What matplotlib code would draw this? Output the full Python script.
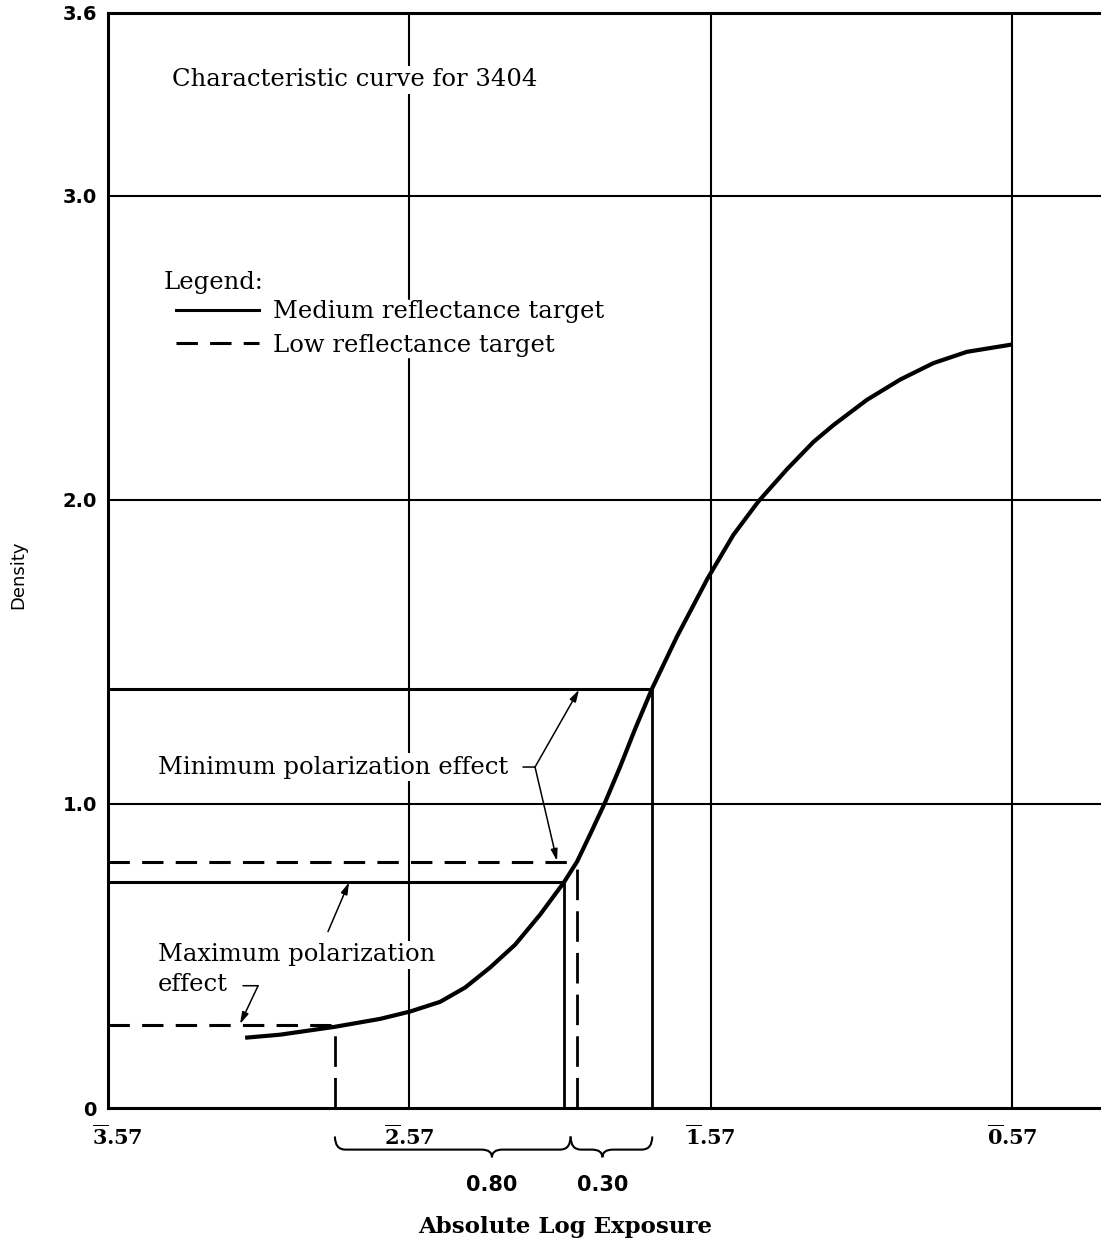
import matplotlib
matplotlib.use("Agg")
import matplotlib.pyplot as plt
from matplotlib.lines import Line2D
from matplotlib.path import Path
from matplotlib.patches import PathPatch
from matplotlib.transforms import ScaledTranslation

plt.rcParams["mathtext.fontset"] = "dejavuserif"

# ---- data (x = log exposure measured from the 3.57-bar line) ----
curve_x = [0.455, 0.571, 0.753, 0.903, 1.002, 1.102, 1.185, 1.268, 1.351, 1.434,
           1.513, 1.557, 1.600, 1.650, 1.699, 1.749, 1.805, 1.887, 1.989, 2.075,
           2.158, 2.253, 2.341, 2.407, 2.518, 2.629, 2.739, 2.850, 2.999]
curve_y = [0.231, 0.241, 0.267, 0.293, 0.317, 0.349, 0.396, 0.462, 0.537, 0.636,
           0.742, 0.811, 0.900, 1.006, 1.121, 1.246, 1.378, 1.548, 1.740, 1.884,
           1.994, 2.100, 2.190, 2.245, 2.328, 2.395, 2.449, 2.486, 2.510]

medium_x = [1.513, 1.806]   # max / min polarization effect, medium reflectance
medium_y = [0.742, 1.378]
low_x = [0.753, 1.557]      # max / min polarization effect, low reflectance
low_y = [0.274, 0.810]

x_ticks = [0, 1, 2, 3]
x_tick_labels = [r"$\overline{\mathbf{3}}$.57", r"$\overline{\mathbf{2}}$.57",
                 r"$\overline{\mathbf{1}}$.57", r"$\overline{\mathbf{0}}$.57"]
y_ticks = [0, 1.0, 2.0, 3.0, 3.6]
y_tick_labels = ["0", "1.0", "2.0", "3.0", "3.6"]
brace_labels = ["0.80", "0.30"]
legend_labels = ["Medium reflectance target", "Low reflectance target"]

SERIF = "DejaVu Serif"
SANS = "DejaVu Sans"
DASH = (0, (7, 4))
FS = 17.5

fig = plt.figure(figsize=(11.01, 12.44), dpi=100)
ax = fig.add_axes([108 / 1101, 136 / 1244, 1 - 108 / 1101, 1095 / 1244])
ax.set_xlim(0, 3.295)
ax.set_ylim(0, 3.6)

# grid
for gx in x_ticks[1:]:
    ax.axvline(gx, color="black", lw=1.5, zorder=1)
for gy in y_ticks[1:-1]:
    ax.axhline(gy, color="black", lw=1.5, zorder=1)

for side in ["left", "top", "bottom"]:
    ax.spines[side].set_linewidth(2.2)
ax.spines["right"].set_visible(False)

ax.set_xticks(x_ticks)
ax.set_xticklabels(x_tick_labels, family=SERIF, fontweight="bold", fontsize=15)
ax.set_yticks(y_ticks)
ax.set_yticklabels(y_tick_labels, family=SANS, fontsize=14, fontweight="bold")
ax.tick_params(axis="x", length=0, pad=12)
ax.tick_params(axis="y", length=0, pad=8)
first = ax.get_xticklabels()[0]
first.set_transform(first.get_transform() +
                    ScaledTranslation(9 / 100, 0, fig.dpi_scale_trans))

# characteristic curve
ax.plot(curve_x, curve_y, color="black", lw=3.0, zorder=5,
        solid_capstyle="butt", solid_joinstyle="round")

# polarization lines
ax.hlines(medium_y, 0, medium_x, colors="black", lw=2.2, zorder=4)
ax.vlines(medium_x, 0, medium_y, colors="black", lw=2.0, zorder=4)
ax.hlines(low_y, 0, low_x, colors="black", lw=2.2, linestyles=[DASH], zorder=4)
ax.vlines(low_x, 0, low_y, colors="black", lw=2.0, linestyles=[(0, (11, 4))], zorder=4)

bbox_w = dict(facecolor="white", edgecolor="none", pad=2)

ax.text(0.212, 3.38, "Characteristic curve for 3404", family=SERIF, fontsize=FS,
        ha="left", va="center", bbox=bbox_w, zorder=3)

ax.text(0.183, 2.715, "Legend:", family=SERIF, fontsize=FS,
        ha="left", va="center", bbox=bbox_w, zorder=3)
handles = [Line2D([], [], color="black", lw=2.2),
           Line2D([], [], color="black", lw=2.2, linestyle=DASH)]
leg = ax.legend(handles, legend_labels, loc="upper left",
                bbox_to_anchor=(0.0685, 0.7375),
                frameon=True, fancybox=False, edgecolor="white", facecolor="white",
                framealpha=1, prop={"family": SERIF, "size": FS},
                handlelength=3.4, handletextpad=0.6, labelspacing=0.42,
                borderpad=0.0, borderaxespad=0.0)
leg.set_zorder(3)

ax.text(0.166, 1.121, "Minimum polarization effect", family=SERIF, fontsize=FS,
        ha="left", va="center", bbox=bbox_w, zorder=3)
ax.text(0.166, 0.504, "Maximum polarization", family=SERIF, fontsize=FS,
        ha="left", va="center", bbox=bbox_w, zorder=3)
ax.text(0.166, 0.405, "effect", family=SERIF, fontsize=FS,
        ha="left", va="center", zorder=3)

arrow = dict(arrowstyle="-|>,head_length=0.7,head_width=0.2", lw=1.1,
             color="black", shrinkA=0, shrinkB=0)
plain = dict(arrowstyle="-", lw=1.1, color="black", shrinkA=0, shrinkB=0)

# Minimum polarization effect pointers
ax.annotate("", xy=(1.417, 1.121), xytext=(1.377, 1.121), arrowprops=plain)
ax.annotate("", xy=(1.563, 1.375), xytext=(1.417, 1.121), arrowprops=arrow, zorder=6)
ax.annotate("", xy=(1.490, 0.812), xytext=(1.417, 1.121), arrowprops=arrow, zorder=6)
# Maximum polarization effect pointers
ax.annotate("", xy=(0.800, 0.742), xytext=(0.730, 0.580), arrowprops=arrow, zorder=6)
ax.annotate("", xy=(0.498, 0.402), xytext=(0.448, 0.402), arrowprops=plain)
ax.annotate("", xy=(0.438, 0.276), xytext=(0.498, 0.402), arrowprops=arrow, zorder=6)

# braces under the axis
trans = ax.get_xaxis_transform()
mid = (medium_x[0] + low_x[1]) / 2
spans = [(low_x[0], mid), (mid, medium_x[1])]
tip_shift = [0.13, -0.03]
y_top, y_base, y_tip = -0.026, -0.038, -0.045
r = 0.035
for (x0, x1), lab, sh in zip(spans, brace_labels, tip_shift):
    xm = (x0 + x1) / 2 + sh
    verts = [(x0, y_top), (x0, y_base), (x0 + r, y_base),
             (xm - r, y_base), (xm, y_base), (xm, y_tip),
             (xm, y_base), (xm + r, y_base),
             (x1 - r, y_base), (x1, y_base), (x1, y_top)]
    codes = [Path.MOVETO, Path.CURVE3, Path.CURVE3,
             Path.LINETO, Path.CURVE3, Path.CURVE3,
             Path.CURVE3, Path.CURVE3,
             Path.LINETO, Path.CURVE3, Path.CURVE3]
    ax.add_patch(PathPatch(Path(verts, codes), transform=trans, facecolor="none",
                           edgecolor="black", lw=1.5, clip_on=False))
    ax.text(xm, -0.070, lab, transform=trans, family=SANS, fontsize=15,
            fontweight="bold", ha="center", va="center")

ax.text(1.517, -0.109, "Absolute Log Exposure", transform=trans, family=SERIF,
        fontsize=16.5, fontweight="bold", ha="center", va="center")
fig.text(18 / 1101, 1 - 575 / 1244, "Density", rotation=90, family=SANS,
         fontsize=13, ha="center", va="center")

fig.savefig("out.png", dpi=100)
